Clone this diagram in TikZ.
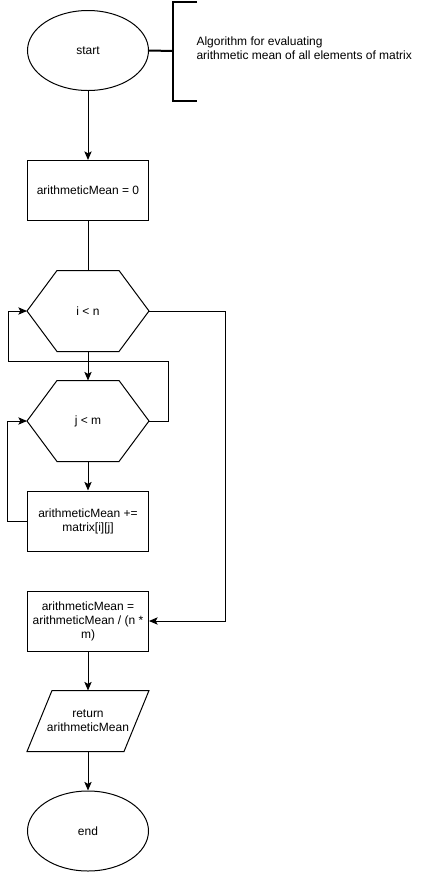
\documentclass[tikz,border=0pt]{standalone}
\usepackage{fontspec}
\setmainfont{Liberation Sans}
\usetikzlibrary{shapes.geometric,arrows.meta,calc,positioning}

\begin{document}
\begin{tikzpicture}[x=0.75pt,y=-0.75pt,line width=0.75pt,
        every node/.style={font=\fontsize{9}{10.5}\selectfont,align=center,inner sep=0pt},
        terminal/.style={draw,ellipse,minimum width=90.75pt,minimum height=60pt},
        process/.style={draw,rectangle,minimum width=90.75pt,minimum height=45pt},
        decision/.style={minimum width=90.75pt,minimum height=60pt},
        io/.style={minimum width=90.75pt,minimum height=45pt},
        flow/.style={-{Stealth[length=6.5pt,width=5.5pt,inset=1.5pt]}}]
        \useasboundingbox (0,0) rectangle (425,872);
        %Nodes
        \node[terminal] (start) at (88,50.5) {start};
        \node[process] (init) at (88,190.5) {arithmeticMean = 0};
        \node[decision] (outer) at (88,311) {i < n};
        \node[decision] (inner) at (88,421) {j < m};
        \node[process] (acc) at (88,521) {arithmeticMean +=\\ matrix[i][j]};
        \node[process] (mean) at (88,621) {arithmeticMean =\\ arithmeticMean / (n *\\ m)};
        \node[io] (ret) at (88,721) {return\\ arithmeticMean};
        \node[terminal] (end) at (88,831) {end};
        \node[anchor=west,align=left] (note) at (196,48) {Algorithm for evaluating\\ arithmetic mean of all elements of matrix};
        \coordinate (brace) at (173,51);
        %Shapes
        \foreach \n in {outer,inner}
          \draw (\n.west) -- ($(\n.north west)+(30,0)$) -- ($(\n.north east)+(-30,0)$)
            -- (\n.east) -- ($(\n.south east)+(-30,0)$) -- ($(\n.south west)+(30,0)$) -- cycle;
        \draw ($(ret.north west)+(25,0)$) -- (ret.north east) -- ($(ret.south east)+(-25,0)$)
          -- (ret.south west) -- cycle;
        %Annotation
        \draw[line width=1.5pt] (start.east) -- (brace);
        \draw[line width=1.5pt] (brace) ++(24,-49.5) -- ++(-24,0) -- ++(0,99) -- ++(24,0);
        %Connectors
        \draw[flow] (start) -- (init);
        \draw (init) -- (outer);
        \draw[flow] (outer) -- (inner);
        \draw[flow] (inner) -- (acc);
        \draw[flow] (mean) -- (ret);
        \draw[flow] (ret) -- (end);
        \draw[flow] (inner.east) -- ++(19,0) -- ++(0,-60) -- ++(-160,0) |- (outer.west);
        \draw[flow] (acc.west) -- ++(-20,0) |- (inner.west);
        \draw[flow] (outer.east) -- ++(76,0) |- (mean.east);
\end{tikzpicture}
\end{document}
